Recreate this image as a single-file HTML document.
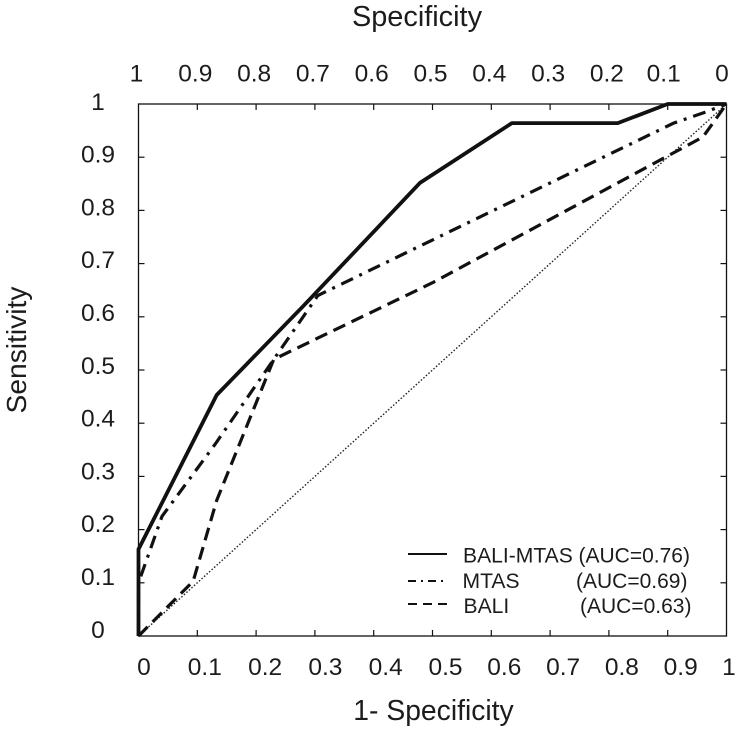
<!DOCTYPE html>
<html>
<head>
<meta charset="utf-8">
<style>
html,body{margin:0;padding:0;background:#fff;}
svg{display:block;font-family:"Liberation Sans",Arial,sans-serif;fill:#1c1c1c;}
</style>
</head>
<body>
<svg id="chart" xmlns="http://www.w3.org/2000/svg" width="738" height="733" viewBox="0 0 738 733">
  <rect x="0" y="0" width="738" height="733" fill="#fff"/>
  <g id="ticks"></g>
  <g id="series"></g>
  <rect x="138.5" y="104" width="588" height="532" fill="none" stroke="#111" stroke-width="1.3"/>
  <g id="labels"></g>
  <text x="417" y="26" font-size="28.9" text-anchor="middle">Specificity</text>
  <text x="433.5" y="720" font-size="28.3" text-anchor="middle">1- Specificity</text>
  <text transform="translate(26,350) rotate(-90)" font-size="28.2" text-anchor="middle">Sensitivity</text>
  <g>
    <line x1="408" x2="447" y1="554" y2="554" stroke="#111" stroke-width="2"/>
    <line x1="408" x2="447" y1="581" y2="581" stroke="#111" stroke-width="2" stroke-dasharray="8 5 2 5"/>
    <line x1="408" x2="447" y1="604" y2="604" stroke="#111" stroke-width="2" stroke-dasharray="9 6"/>
    <text x="463" y="562.5" font-size="21.1">BALI-MTAS</text>
    <text x="578.5" y="562.5" font-size="21">(AUC=0.76)</text>
    <text x="462.5" y="588" font-size="21.1">MTAS</text>
    <text x="576" y="588" font-size="21">(AUC=0.69)</text>
    <text x="463.5" y="613" font-size="21.1">BALI</text>
    <text x="580" y="613" font-size="21">(AUC=0.63)</text>
  </g>
</svg>
<script>
var xTickValues = [0, 0.1, 0.2, 0.3, 0.4, 0.5, 0.6, 0.7, 0.8, 0.9, 1];
var yTickValues = [0, 0.1, 0.2, 0.3, 0.4, 0.5, 0.6, 0.7, 0.8, 0.9, 1];
var bottomTickLabels = ["0", "0.1", "0.2", "0.3", "0.4", "0.5", "0.6", "0.7", "0.8", "0.9", "1"];
var topTickLabels = ["1", "0.9", "0.8", "0.7", "0.6", "0.5", "0.4", "0.3", "0.2", "0.1", "0"];
var yTickLabels = ["0", "0.1", "0.2", "0.3", "0.4", "0.5", "0.6", "0.7", "0.8", "0.9", "1"];

var referenceFpr = [0, 1];
var referenceTpr = [0, 1];
var baliMtasFpr = [0, 0, 0.133, 0.28, 0.479, 0.635, 0.815, 0.9, 1];
var baliMtasTpr = [0, 0.163, 0.453, 0.62, 0.852, 0.964, 0.964, 1, 1];
var mtasFpr = [0, 0, 0.04, 0.13, 0.305, 0.91, 0.965, 1];
var mtasTpr = [0, 0.1, 0.225, 0.36, 0.64, 0.964, 0.985, 1];
var baliFpr = [0, 0.093, 0.133, 0.23, 0.5, 0.96, 1];
var baliTpr = [0, 0.103, 0.255, 0.52, 0.664, 0.938, 1];

var NS = "http://www.w3.org/2000/svg";
function xScale(v) { return 138.5 + v * 588; }
function yScale(v) { return 636 - v * 532; }
function make(tag, attrs, parent) {
  var el = document.createElementNS(NS, tag);
  for (var k in attrs) el.setAttribute(k, attrs[k]);
  parent.appendChild(el);
  return el;
}
function pathFrom(xs, ys) {
  return xs.map(function (x, i) {
    return (i ? "L" : "M") + xScale(x).toFixed(2) + " " + yScale(ys[i]).toFixed(2);
  }).join(" ");
}
function bottomNudge(v) {
  if (v === 0) return 5.5;
  if (v === 1) return 2.5;
  return Math.min(6 + 15 * v, 13);
}
function topNudge(i) {
  if (i === topTickLabels.length - 1) return -4.5;
  if (i === topTickLabels.length - 2) return -4;
  return -2;
}

var ticksG = document.getElementById("ticks");
var seriesG = document.getElementById("series");
var labelsG = document.getElementById("labels");
var tickStyle = { stroke: "#111", "stroke-width": 1.2 };

xTickValues.forEach(function (v, i) {
  var x = xScale(v);
  if (i > 0 && i < xTickValues.length - 1) {
    var b = make("line", { x1: x, x2: x, y1: 636, y2: 630, stroke: tickStyle.stroke, "stroke-width": tickStyle["stroke-width"] }, ticksG);
    
    
    var t = make("line", { x1: x, x2: x, y1: 104, y2: 110, stroke: tickStyle.stroke, "stroke-width": tickStyle["stroke-width"] }, ticksG);
    
    
  }
  var bl = make("text", { x: x + bottomNudge(v), y: 675, "font-size": 24.5, "text-anchor": "middle" }, labelsG);
  bl.textContent = bottomTickLabels[i];
  
  
  var tl = make("text", { x: x + topNudge(i), y: 81.5, "font-size": 24.5, "text-anchor": "middle" }, labelsG);
  tl.textContent = topTickLabels[i];
  
  
});

yTickValues.forEach(function (v, i) {
  var y = yScale(v);
  if (i > 0 && i < yTickValues.length - 1) {
    var l = make("line", { x1: 138.5, x2: 144.5, y1: y, y2: y, stroke: tickStyle.stroke, "stroke-width": tickStyle["stroke-width"] }, ticksG);
    
    
    var r = make("line", { x1: 726.5, x2: 720.5, y1: y, y2: y, stroke: tickStyle.stroke, "stroke-width": tickStyle["stroke-width"] }, ticksG);
    
    
  }
  var tx = make("text", { x: 98, y: y - 3 - 4 * (1 - v) + 8.8, "font-size": 24.5, "text-anchor": "middle" }, labelsG);
  tx.textContent = yTickLabels[i];
  
  
});

var refLine = make("path", { d: pathFrom(referenceFpr, referenceTpr), fill: "none", stroke: "#222", "stroke-width": 1.4, "stroke-dasharray": "1.5 1.9" }, seriesG);



var baliLine = make("path", { d: pathFrom(baliFpr, baliTpr), fill: "none", stroke: "#111", "stroke-width": 3.2, "stroke-dasharray": "13 7" }, seriesG);



var mtasLine = make("path", { d: pathFrom(mtasFpr, mtasTpr), fill: "none", stroke: "#111", "stroke-width": 3.2, "stroke-dasharray": "13 7 3 7" }, seriesG);



var comboLine = make("path", { d: pathFrom(baliMtasFpr, baliMtasTpr), fill: "none", stroke: "#111", "stroke-width": 3.8, "stroke-linejoin": "round" }, seriesG);


</script>
</body>
</html>
